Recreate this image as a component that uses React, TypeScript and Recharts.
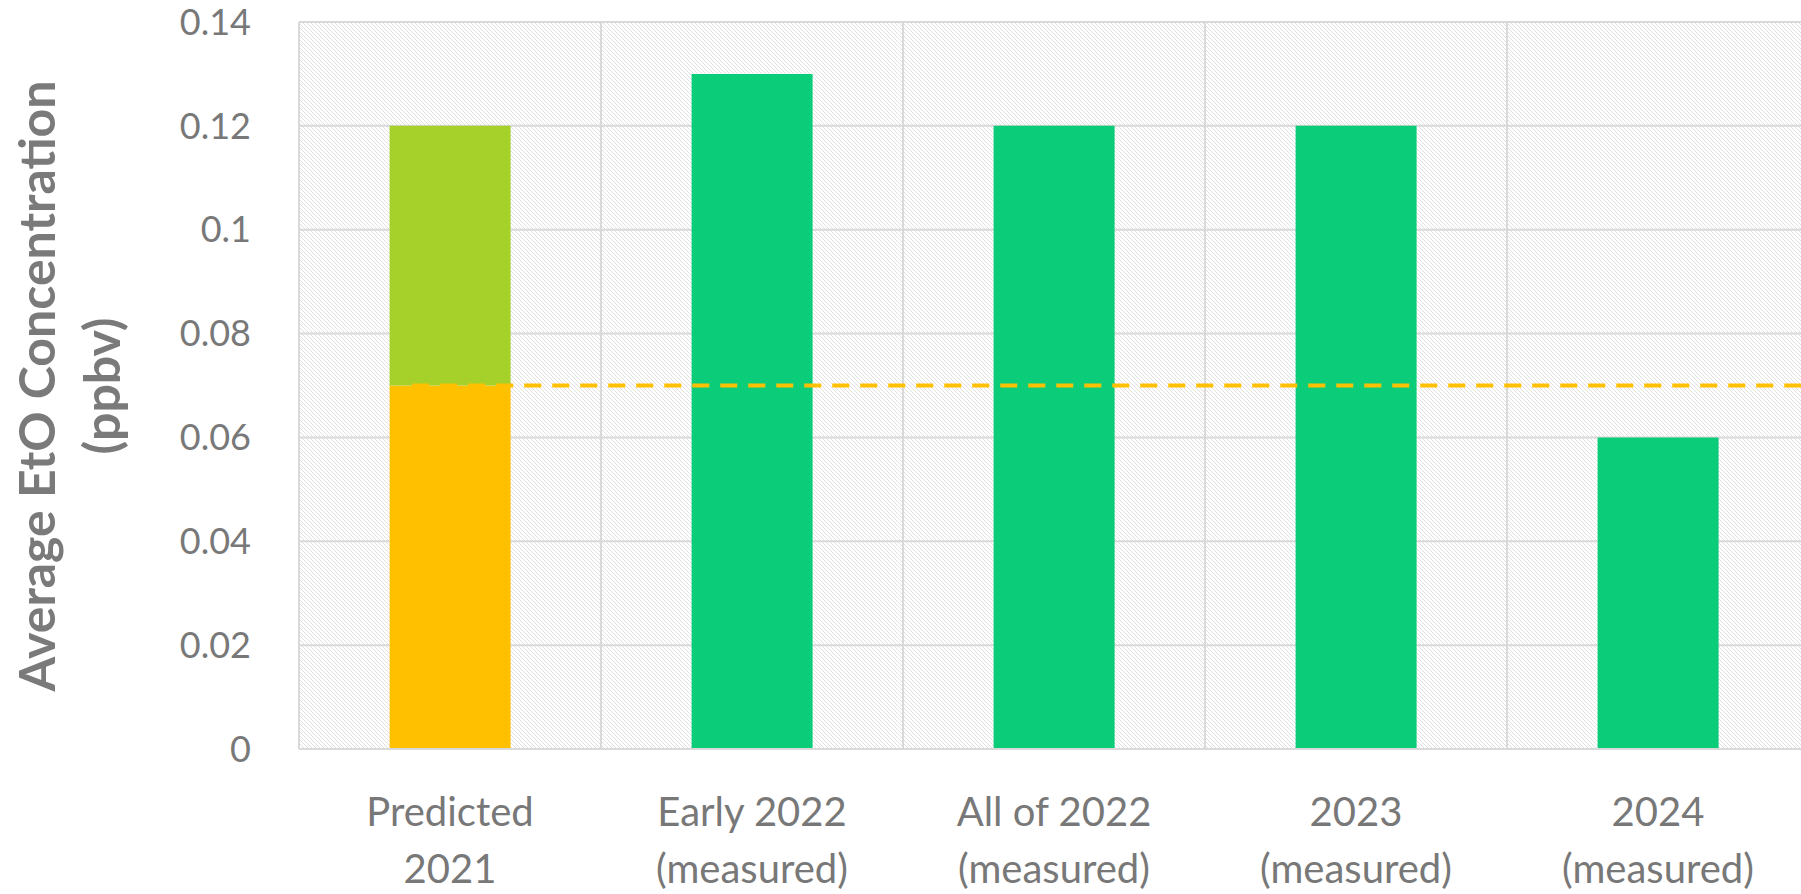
import React from 'react';
import { ComposedChart, Bar, XAxis, YAxis, CartesianGrid, ReferenceLine } from 'recharts';

const CATEGORIES = ['Predicted\n2021', 'Early 2022\n(measured)', 'All of 2022\n(measured)', '2023\n(measured)', '2024\n(measured)'];
const PREDICTED_BELOW = [0.07, null, null, null, null];
const PREDICTED_ABOVE = [0.05, null, null, null, null];
const MEASURED = [null, 0.13, 0.12, 0.12, 0.06];
const Y_TICKS = [0, 0.02, 0.04, 0.06, 0.08, 0.1, 0.12, 0.14];
const THRESHOLD = 0.07;

const data = CATEGORIES.map((name, i) => ({
  name,
  below: PREDICTED_BELOW[i],
  above: PREDICTED_ABOVE[i],
  measured: MEASURED[i],
}));

const FONT = 'Lato, "Open Sans", sans-serif';
const TEXT = '#787878';
const GRID = '#d9d9d9';
const GAP = 0.3; // bar gap on each side of a band

const XTick = ({ x, y, payload }: any) => {
  const lines = String(payload.value).split('\n');
  return (
    <text x={x} y={y} textAnchor="middle" fill={TEXT} fontSize={40} fontFamily={FONT}>
      {lines.map((l, i) => (
        <tspan key={i} x={x} dy={i === 0 ? 77 : 57}>{l}</tspan>
      ))}
    </text>
  );
};

const YTitle = () => (
  <text transform="translate(55,386) rotate(-90)" textAnchor="middle" fill="#7a7a7a" fontSize={50} fontWeight={700} fontFamily={FONT}>
    <tspan x={0} dy={0}>Average EtO Concentration</tspan>
    <tspan x={0} dy={65}>(ppbv)</tspan>
  </text>
);

export default function App() {
  return (
    <div style={{ position: 'absolute', left: 0, top: 0, width: 1801, height: 894, overflow: 'hidden', background: '#fff' }}>
      <ComposedChart width={1820} height={894} data={data} margin={{ top: 22, right: 11, left: 0, bottom: 0 }} barCategoryGap={`${GAP * 100}%`}>
        <defs>
          <pattern id="hatch" patternUnits="userSpaceOnUse" width={4} height={4}>
            <rect width={4} height={4} fill="#fff" />
            <path d="M-1,-1 L5,5 M-1,3 L1,5 M3,-1 L5,1" stroke="#dcdcdc" strokeWidth={0.9} />
          </pattern>
        </defs>
        <CartesianGrid
          fill="url(#hatch)"
          fillOpacity={1}
          stroke={GRID}
          strokeWidth={2}
          verticalCoordinatesGenerator={({ offset }: any) =>
            CATEGORIES.map((_, i) => offset.left + (i * offset.width) / CATEGORIES.length).concat(offset.left + offset.width)
          }
        />
        <XAxis
          dataKey="name"
          interval={0}
          tick={<XTick />}
          tickLine={false}
          tickSize={0}
          tickMargin={0}
          height={145}
          axisLine={{ stroke: GRID, strokeWidth: 2 }}
        />
        <XAxis xAxisId="ref" type="number" domain={[0, CATEGORIES.length]} hide allowDataOverflow />
        <YAxis
          domain={[0, 0.14]}
          ticks={Y_TICKS}
          interval={0}
          width={299}
          tickLine={false}
          tickSize={0}
          tickMargin={48}
          axisLine={{ stroke: GRID, strokeWidth: 2 }}
          tick={{ fill: TEXT, fontSize: 36, fontFamily: FONT }}
          label={<YTitle />}
        />
        <Bar dataKey="below" stackId="a" fill="#FFC000" isAnimationActive={false} />
        <Bar dataKey="above" stackId="a" fill="#A6D12B" isAnimationActive={false} />
        <ReferenceLine
          xAxisId="ref"
          segment={[{ x: GAP, y: THRESHOLD }, { x: CATEGORIES.length, y: THRESHOLD }]}
          stroke="#FFC000"
          strokeWidth={4}
          strokeDasharray="17 11"
          ifOverflow="visible"
        />
        <Bar dataKey="measured" stackId="a" fill="#0ACC79" isAnimationActive={false} />
      </ComposedChart>
    </div>
  );
}
